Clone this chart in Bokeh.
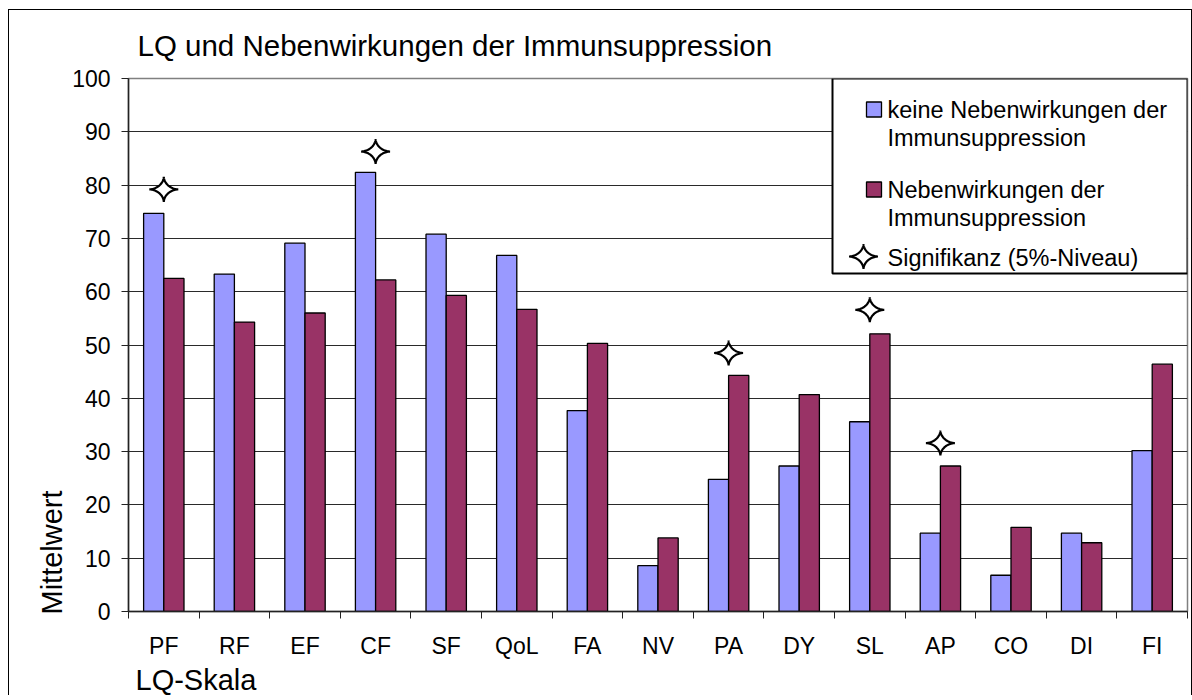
import numpy as np
from bokeh.plotting import figure
from bokeh.models import FixedTicker, Range1d, BoxAnnotation, Title
from bokeh.core.properties import value
from bokeh.embed import file_html
from bokeh.resources import INLINE

# ---- data ----
categories = ["PF", "RF", "EF", "CF", "SF", "QoL", "FA", "NV", "PA", "DY", "SL", "AP", "CO", "DI", "FI"]
keine_nw = [74.7, 63.3, 69.1, 82.4, 70.8, 66.8, 37.7, 8.6, 24.8, 27.3, 35.6, 14.7, 6.8, 14.7, 30.2]
mit_nw = [62.5, 54.3, 56.0, 62.2, 59.3, 56.7, 50.3, 13.8, 44.3, 40.7, 52.1, 27.3, 15.8, 12.9, 46.4]
sig_categories = ["PF", "CF", "PA", "SL", "AP"]
sig_marker_y = [79.2, 86.3, 48.5, 56.6, 31.6]
y_ticks = list(range(0, 101, 10))

title_text = "LQ und Nebenwirkungen der Immunsuppression"
x_title = "LQ-Skala"
y_title = "Mittelwert"
legend_labels = [["keine Nebenwirkungen der", "Immunsuppression"],
                 ["Nebenwirkungen der", "Immunsuppression"],
                 ["Signifikanz (5%-Niveau)"]]

FONT = "Liberation Sans"
BLUE = "#9999FF"
RED = "#993366"

n = len(categories)
idx = np.arange(n)
FRAME_W, FRAME_H = 1059, 533

p = figure(frame_width=FRAME_W, frame_height=FRAME_H,
           x_range=Range1d(-0.5, n - 0.5), y_range=Range1d(0, 100),
           output_backend="svg", toolbar_location=None,
           min_border_left=119, min_border_right=4, min_border_top=67, min_border_bottom=80)
p.styles = {"border-left": "1px solid black", "border-top": "1px solid black",
            "border-right": "1px solid black",
            "margin-left": "8px", "margin-top": "9px"}
p.outline_line_color = "#808080"
p.outline_line_width = 1.5
p.background_fill_color = "white"
p.border_fill_color = "white"

px_x = FRAME_W / n
px_y = FRAME_H / 100.0

# grid
p.xgrid.visible = False
p.ygrid.ticker = FixedTicker(ticks=y_ticks)
p.ygrid.grid_line_color = "#2a2a2a"
p.ygrid.grid_line_width = 1

# bars
bw = 0.286
p.vbar(x=idx - bw / 2, top=keine_nw, bottom=0, width=bw,
       fill_color=BLUE, line_color="black", line_width=1.3)
p.vbar(x=idx + bw / 2, top=mit_nw, bottom=0, width=bw,
       fill_color=RED, line_color="black", line_width=1.3)


def star(cx, cy, rx_px=14.5, ry_px=12.5, k=3.4):
    t = np.linspace(0, 2 * np.pi, 121)
    c, s = np.cos(t), np.sin(t)
    xs = cx + (rx_px / px_x) * np.sign(c) * np.abs(c) ** k
    ys = cy + (ry_px / px_y) * np.sign(s) * np.abs(s) ** k
    return list(xs), list(ys)


sx, sy = [], []
for cat, yv in zip(sig_categories, sig_marker_y):
    xs, ys = star(categories.index(cat), yv)
    sx.append(xs)
    sy.append(ys)
p.patches(xs=sx, ys=sy, fill_color="white", line_color="black", line_width=2.2)

# axes
ya = p.yaxis[0]
ya.ticker = FixedTicker(ticks=y_ticks)
ya.major_tick_out = 7
ya.major_tick_in = 0
ya.minor_tick_out = 0
ya.minor_tick_in = 0
ya.axis_line_color = "#222222"
ya.axis_line_width = 1.5
ya.major_tick_line_color = "#222222"
ya.major_label_text_font = FONT
ya.major_label_text_font_size = "23px"
ya.major_label_text_color = "black"
ya.major_label_standoff = 11

xa = p.xaxis[0]
xa.ticker = FixedTicker(ticks=list(idx), minor_ticks=[i - 0.5 for i in range(n + 1)])
xa.major_label_overrides = {int(i): c for i, c in zip(idx, categories)}
xa.major_tick_out = 0
xa.major_tick_in = 0
xa.minor_tick_out = 7
xa.minor_tick_in = 0
xa.minor_tick_line_color = "#222222"
xa.axis_line_color = "#222222"
xa.axis_line_width = 1.5
xa.major_label_text_font = FONT
xa.major_label_text_font_size = "23px"
xa.major_label_text_color = "black"
xa.major_label_standoff = 14

# title
p.title.text = title_text
p.title.text_font = FONT
p.title.text_font_style = "normal"
p.title.text_font_size = "29.5px"
p.title.text_color = "black"
p.title.align = "left"
p.title.offset = 9
p.title.standoff = 33

# axis titles as side titles
p.add_layout(Title(text=y_title, align="left", offset=-3, standoff=4,
                   text_font=FONT, text_font_style="normal", text_font_size="29px",
                   text_color="black"), "left")
p.add_layout(Title(text=x_title, align="left", offset=7, standoff=0,
                   text_font=FONT, text_font_style="normal", text_font_size="29px",
                   text_color="black"), "below")


def dx(px):  # reference page-x -> data x
    return -0.5 + (px - 128) / px_x


def dy(py):  # reference page-y -> data y
    return (610 - py) / px_y


# legend (manual)
p.add_layout(BoxAnnotation(left=dx(832), right=n - 0.5, bottom=dy(272), top=100,
                           fill_color="white", fill_alpha=1.0,
                           line_color="black", line_alpha=1.0, line_width=2, level="annotation"))
p.scatter(x=[dx(873.5), dx(873.5)], y=[dy(108), dy(188)], marker="square", size=15,
          fill_color=[BLUE, RED], line_color="black", line_width=1.3, level="overlay")
lxs, lys = star(dx(863), dy(255))
p.patch(x=lxs, y=lys, fill_color="white", line_color="black", line_width=2.2, level="overlay")

text_lines = legend_labels[0] + legend_labels[1] + legend_labels[2]
text_py = [108, 136, 188, 216, 256]
p.text(x=[dx(887)] * len(text_lines), y=[dy(v) for v in text_py], text=text_lines,
       text_align="left", text_baseline="middle", text_font=value(FONT),
       text_font_size="23.5px", text_color="black", level="overlay")

open("out.html", "w").write(file_html(p, INLINE))
